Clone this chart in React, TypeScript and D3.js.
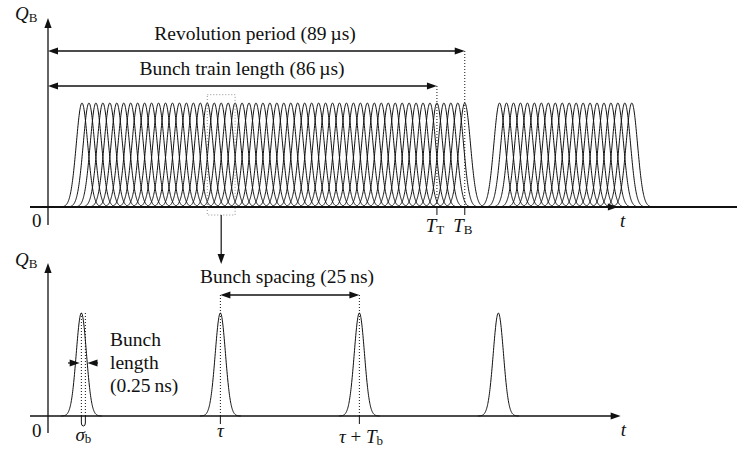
import React from 'react';
import * as d3 from 'd3';

// ---- top panel: bunch trains around the ring (x in bunch slots) ----
const trainFirstSlot = [5, 65];
const trainBunchCount = [56, 20];
const slotSigma = 0.82;
const markerSlots = [56, 60]; // T_T, T_B
const markerSubs = ['T', 'B'];
const revolutionLabel = 'Revolution period (89\u2009µs)';
const trainLabel = 'Bunch train length (86\u2009µs)';

// ---- bottom panel: single bunches (x in ns) ----
const bunchTimes = [6, 31, 56, 81];
const bunchSigma = 0.92; // drawn pulse width
const sigmaMark = 0.72; // width of the sigma_b bracket
const spacingLabel = 'Bunch spacing (25\u2009ns)';
const lengthLabel = ['Bunch', 'length', '(0.25\u2009ns)'];

const W = 744;
const H = 450;
const ink = '#111';
const font = '"Liberation Serif", "DejaVu Serif", serif';

function Head({ x, y, angle }: { x: number; y: number; angle: number }) {
  return (
    <polygon
      points="0,0 -10,-3.6 -10,3.6"
      fill={ink}
      transform={`translate(${x},${y}) rotate(${angle})`}
    />
  );
}

function gaussPath(center: number, sigma: number, xs: any, ys: any) {
  const pts = d3.range(-4 * sigma, 4 * sigma + 1e-9, sigma / 20).map(d => [center + d, Math.exp(-(d * d) / (2 * sigma * sigma))]);
  return d3.line<number[]>().x(d => xs(d[0])).y(d => ys(d[1]))(pts) as string;
}

export default function App() {
  // scales
  const xT = d3.scaleLinear().domain([0, 99]).range([47.2, 736.2]);
  const yT = d3.scaleLinear().domain([0, 1]).range([207, 103]);
  const xB = d3.scaleLinear().domain([0, 100]).range([48, 604]);
  const yB = d3.scaleLinear().domain([0, 1]).range([416, 313]);

  const topBunches: number[] = [];
  trainFirstSlot.forEach((s, i) => {
    d3.range(trainBunchCount[i]).forEach(k => topBunches.push(s + k));
  });

  const axisX = 48;
  const boxSlots = [23, 27];
  const boxMid = (boxSlots[0] + boxSlots[1]) / 2;

  return (
    <svg width={W} height={H} style={{ position: 'absolute', left: 0, top: 0, background: '#fff' }} fontFamily={font}>
      {/* ===== top panel ===== */}
      <g>
        {topBunches.map((c, i) => (
          <path key={i} d={gaussPath(c, slotSigma, xT, yT)} fill="none" stroke={ink} strokeWidth={1} />
        ))}
        {/* baseline and axes */}
        <line x1={30} x2={737} y1={yT(0)} y2={yT(0)} stroke={ink} strokeWidth={1.8} />
        <Head x={xT(82)} y={yT(0)} angle={0} />
        <line x1={axisX} x2={axisX} y1={225} y2={26} stroke={ink} strokeWidth={1.3} />
        <Head x={axisX} y={18} angle={-90} />
        <text x={15} y={20} fontSize={19} fontStyle="italic" fill={ink}>
          Q<tspan fontStyle="normal" fontSize={13} dy={2}>B</tspan>
        </text>
        <text x={32} y={227} fontSize={19} fill={ink}>0</text>
        <text x={xT(82) + 2} y={227} fontSize={19} fontStyle="italic" fill={ink}>t</text>

        {/* revolution period + train length arrows */}
        {[0, 1].map(i => {
          const y = i === 0 ? 51 : 86;
          const xe = xT(markerSlots[1 - i]);
          return (
            <g key={i}>
              <line x1={axisX + 8} x2={xe - 8} y1={y} y2={y} stroke={ink} strokeWidth={1.3} />
              <Head x={axisX} y={y} angle={180} />
              <Head x={xe} y={y} angle={0} />
              <line x1={xe} x2={xe} y1={y} y2={yT(0)} stroke={ink} strokeWidth={1} strokeDasharray="1,2" />
            </g>
          );
        })}
        <text x={255} y={40} fontSize={19.5} textAnchor="middle" fill={ink}>{revolutionLabel}</text>
        <text x={242} y={75} fontSize={19.5} textAnchor="middle" fill={ink}>{trainLabel}</text>

        {markerSlots.map((s, i) => (
          <g key={i}>
            <line x1={xT(s)} x2={xT(s)} y1={yT(0)} y2={yT(0) + 8} stroke={ink} strokeWidth={1} />
            <text x={xT(s) - 2} y={232} fontSize={19} fontStyle="italic" textAnchor="middle" fill={ink}>
              T<tspan fontStyle="normal" fontSize={13} dy={2}>{markerSubs[i]}</tspan>
            </text>
          </g>
        ))}

        {/* zoom box */}
        <rect
          x={xT(boxSlots[0])}
          y={yT(1.08)}
          width={xT(boxSlots[1]) - xT(boxSlots[0])}
          height={yT(-0.077) - yT(1.08)}
          fill="none"
          stroke="#777"
          strokeWidth={0.8}
          strokeDasharray="1,2"
        />
        <line x1={xT(boxMid)} x2={xT(boxMid)} y1={yT(-0.077)} y2={255} stroke={ink} strokeWidth={1.2} />
        <Head x={xT(boxMid)} y={264} angle={90} />
      </g>

      {/* ===== bottom panel ===== */}
      <g>
        {bunchTimes.map((c, i) => (
          <path key={i} d={gaussPath(c, bunchSigma, xB, yB)} fill="none" stroke={ink} strokeWidth={1} />
        ))}
        <line x1={30} x2={xB(103) - 8} y1={yB(0)} y2={yB(0)} stroke={ink} strokeWidth={1.3} />
        <Head x={xB(103)} y={yB(0)} angle={0} />
        <line x1={axisX} x2={axisX} y1={433} y2={271} stroke={ink} strokeWidth={1.3} />
        <Head x={axisX} y={263} angle={-90} />
        <text x={15} y={266} fontSize={19} fontStyle="italic" fill={ink}>
          Q<tspan fontStyle="normal" fontSize={13} dy={2}>B</tspan>
        </text>
        <text x={32} y={437} fontSize={19} fill={ink}>0</text>
        <text x={xB(103)} y={436} fontSize={19} fontStyle="italic" fill={ink}>t</text>

        {/* bunch spacing */}
        {[1, 2].map(i => (
          <g key={i}>
            <line x1={xB(bunchTimes[i])} x2={xB(bunchTimes[i])} y1={295} y2={yB(0)} stroke={ink} strokeWidth={1} strokeDasharray="1,2" />
            <line x1={xB(bunchTimes[i])} x2={xB(bunchTimes[i])} y1={yB(0)} y2={yB(0) + 8} stroke={ink} strokeWidth={1} />
          </g>
        ))}
        <line x1={xB(bunchTimes[1]) + 8} x2={xB(bunchTimes[2]) - 8} y1={295} y2={295} stroke={ink} strokeWidth={1.3} />
        <Head x={xB(bunchTimes[1])} y={295} angle={180} />
        <Head x={xB(bunchTimes[2])} y={295} angle={0} />
        <text x={287} y={283} fontSize={19.5} textAnchor="middle" fill={ink}>{spacingLabel}</text>

        <text x={xB(bunchTimes[1])} y={437} fontSize={19} fontStyle="italic" textAnchor="middle" fill={ink}>τ</text>
        <text x={361} y={443} fontSize={19} textAnchor="middle" fill={ink}>
          <tspan fontStyle="italic">τ</tspan> + <tspan fontStyle="italic">T</tspan>
          <tspan fontSize={13} dy={2}>b</tspan>
        </text>

        {/* bunch length */}
        {[0, 1].map(i => {
          const x = xB(bunchTimes[0] + i * sigmaMark);
          return <line key={i} x1={x} x2={x} y1={yB(1)} y2={yB(0)} stroke={ink} strokeWidth={1} strokeDasharray="1,2" />;
        })}
        <path
          d={`M${xB(bunchTimes[0])},${yB(0)} V${yB(0) + 7} A${(xB(sigmaMark) - xB(0)) / 2},3 0 0 0 ${xB(bunchTimes[0] + sigmaMark)},${yB(0) + 7} V${yB(0)}`}
          fill="none"
          stroke={ink}
          strokeWidth={1}
        />
        <line x1={68} x2={72} y1={363} y2={363} stroke={ink} strokeWidth={1.2} />
        <Head x={xB(bunchTimes[0] - 0.3)} y={363} angle={0} />
        <line x1={xB(bunchTimes[0] + 1.1) + 8} x2={98} y1={363} y2={363} stroke={ink} strokeWidth={1.2} />
        <Head x={xB(bunchTimes[0] + 1.1)} y={363} angle={180} />
        <text x={xB(bunchTimes[0] + sigmaMark / 2)} y={441} fontSize={19} fontStyle="italic" textAnchor="middle" fill={ink}>
          σ<tspan fontStyle="normal" fontSize={13} dy={2}>b</tspan>
        </text>
        {lengthLabel.map((s, i) => (
          <text key={i} x={110} y={346 + i * 23} fontSize={19.5} fill={ink}>{s}</text>
        ))}
      </g>
    </svg>
  );
}
